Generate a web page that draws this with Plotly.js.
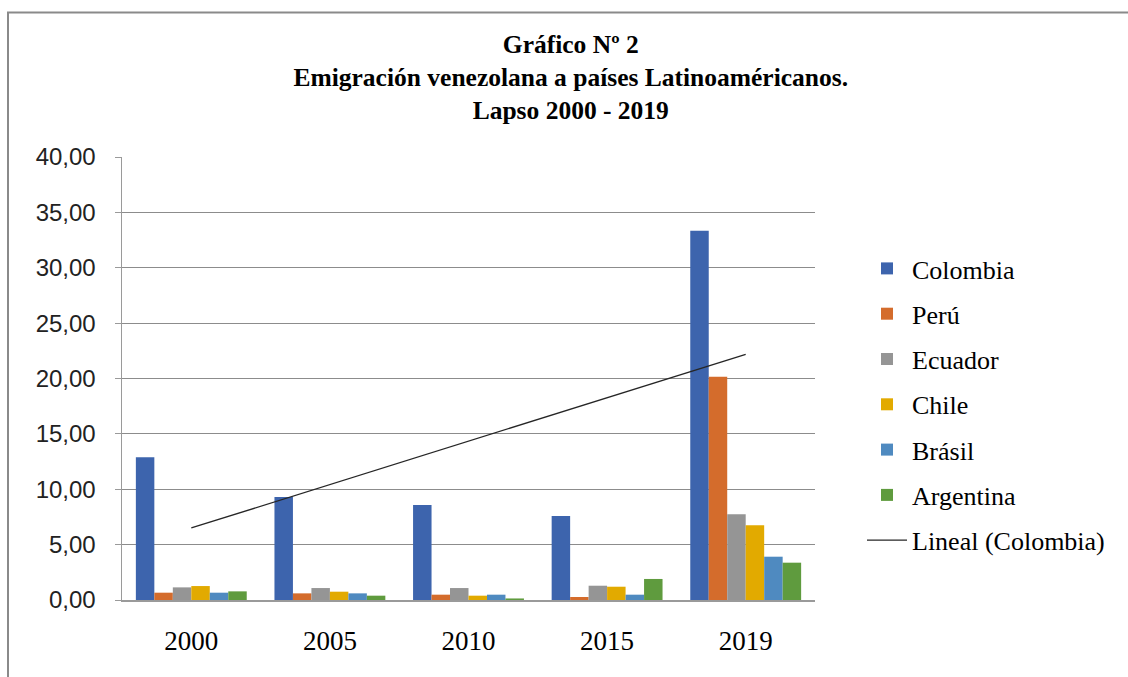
<!DOCTYPE html>
<html>
<head>
<meta charset="utf-8">
<script src="https://cdn.plot.ly/plotly-3.0.1.min.js"></script>
<style>html,body{margin:0;padding:0;background:#fff;}#chart{width:1128px;height:677px;}</style>
</head>
<body>
<div id="chart"></div>
<script>
const years = ["2000", "2005", "2010", "2015", "2019"];
const colombia = [12.90, 9.30, 8.58, 7.58, 33.35];
const peru = [0.66, 0.60, 0.48, 0.27, 20.16];
const ecuador = [1.14, 1.08, 1.08, 1.29, 7.74];
const chile = [1.26, 0.75, 0.39, 1.20, 6.74];
const brasil = [0.66, 0.60, 0.48, 0.48, 3.91];
const argentina = [0.78, 0.39, 0.14, 1.90, 3.37];

const seriesNames = ["Colombia", "Perú", "Ecuador", "Chile", "Brásil", "Argentina"];
const seriesValues = [colombia, peru, ecuador, chile, brasil, argentina];
const seriesColors = ["#3D64AD", "#D46C2C", "#959595", "#E2AA00", "#4F8AC0", "#5F9B3E"];

// Linear trendline (least squares) of Colombia over category index 1..n
const n = colombia.length;
const xs = colombia.map((_, i) => i + 1);
const mx = xs.reduce((a, b) => a + b, 0) / n;
const my = colombia.reduce((a, b) => a + b, 0) / n;
let sxy = 0, sxx = 0;
for (let i = 0; i < n; i++) { sxy += (xs[i] - mx) * (colombia[i] - my); sxx += (xs[i] - mx) ** 2; }
const slope = sxy / sxx, intercept = my - slope * mx;
const trend = xs.map(x => intercept + slope * x);

const traces = seriesNames.map((name, i) => ({
  type: "bar", name: name, x: years, y: seriesValues[i],
  marker: {color: seriesColors[i]}, legendgroup: "g" + i, hoverinfo: "x+y+name"
}));
traces.push({
  type: "scatter", mode: "lines", name: "Lineal (Colombia)", x: years, y: trend,
  line: {color: "#262626", width: 1.3}, legendgroup: "g6"
});

// plot area in pixels
const L = 122, R = 815, T = 157, B = 600, W = 1128, H = 677;
const px = v => (v - L) / (R - L);
const py = v => (B - v) / (B - T);

const layout = {
  width: W, height: H,
  margin: {l: L, r: W - R, t: T, b: H - B, pad: 0},
  paper_bgcolor: "#ffffff", plot_bgcolor: "#ffffff",
  separators: ",.",
  barmode: "group", bargap: 0.2, bargroupgap: 0,
  title: {
    text: "Gráfico Nº 2<br>Emigración venezolana a países Latinoaméricanos.<br>Lapso 2000 - 2019",
    font: {family: "Liberation Serif", size: 25.5, color: "#000", weight: 700},
    xref: "container", yref: "container", x: 0.506, xanchor: "center", y: 1 - 53 / H, yanchor: "top"
  },
  xaxis: {
    type: "category", showgrid: false, showline: true, linecolor: "#9a9a9a", linewidth: 1.5,
    ticks: "", tickfont: {family: "Liberation Serif", size: 27, color: "#000"},
    ticklabelstandoff: 16, zeroline: false, fixedrange: true
  },
  yaxis: {
    range: [0, 40], dtick: 5, tickformat: ".2f", showgrid: true, gridcolor: "#8c8c8c", gridwidth: 1,
    showline: true, linecolor: "#9a9a9a", linewidth: 1.5, ticks: "outside", ticklen: 6, tickcolor: "#9a9a9a",
    tickfont: {family: "Liberation Sans", size: 24, color: "#222"}, ticklabelstandoff: 14,
    zeroline: false, fixedrange: true
  },
  legend: {
    x: px(862), xanchor: "left", y: py(245), yanchor: "top",
    font: {family: "Liberation Serif", size: 26, color: "#000"},
    traceorder: "grouped", tracegroupgap: 8.5, itemwidth: 40, bgcolor: "rgba(0,0,0,0)"
  },
  shapes: [{
    type: "path", xref: "paper", yref: "paper", layer: "above",
    path: `M ${px(8)} ${py(H + 5)} L ${px(8)} ${py(12.5)} L ${px(W + 5)} ${py(12.5)}`,
    line: {color: "#8a8a8a", width: 2}
  }],
  showlegend: true
};

Plotly.newPlot("chart", traces, layout, {displayModeBar: false, staticPlot: true});
</script>
</body>
</html>
